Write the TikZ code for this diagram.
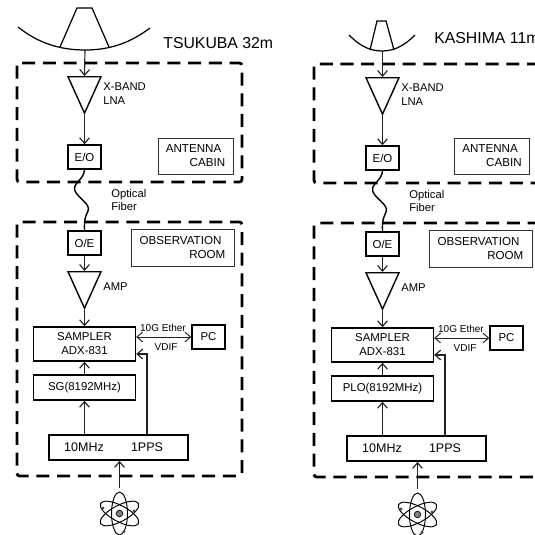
\documentclass[tikz,border=0pt]{standalone}
\usepackage{fontspec}
\setmainfont{Liberation Sans}
\usepackage{xcolor}
\usetikzlibrary{arrows.meta,shapes.geometric,calc}
\definecolor{wire}{HTML}{222222}
\newcommand{\fsz}[1]{\fontsize{#1}{7.9}\selectfont}
\tikzset{
  vbox/.style={draw=black,fill=white,line width=0.8pt,align=center,inner sep=0pt,font=\fsz{6.5}},
  vroom/.style={draw=black!80,fill=white,line width=0.45pt,align=left,inner sep=0pt,font=\fsz{6.6}},
  vclock/.style={draw=black,line width=1pt,inner sep=0pt},
  vamp/.style={draw=black,fill=white,line width=0.8pt,isosceles triangle,isosceles triangle apex angle=48,
    isosceles triangle stretches,shape border rotate=270,inner sep=0pt,minimum width=0.66cm,minimum height=0.73cm,anchor=lower side},
  vtag/.style={inner sep=0pt,anchor=west,align=left,font=\fsz{6.4}},
  vfig/.style={inner sep=0pt,font=\fsz{7.1}},
  vsmall/.style={inner sep=0pt,font=\fsz{5.7}},
  vname/.style={inner sep=0pt,anchor=west,font=\fsz{9}},
  varr/.style={-{Straight Barb[length=3.2pt,width=5.5pt]},line width=0.65pt,draw=wire},
  vdbl/.style={{Straight Barb[length=3.2pt,width=5.5pt]}-{Straight Barb[length=3.2pt,width=5.5pt]},line width=0.55pt,draw=wire},
  vline/.style={line width=0.7pt,draw=black},
  vfence/.style={draw=black,line width=1.6pt,rounded corners=1.5pt,dash pattern=on 7.4pt off 4.4pt},
  vnuc/.style={circle,draw=black,fill=gray,line width=0.4pt,minimum size=0.13cm,inner sep=0pt}
}
\begin{document}
\begin{tikzpicture}[x=0.02cm,y=-0.02cm]
  \clip (0,0) rectangle (535,535);
  % TSUKUBA
  \draw[vfence] (17,63) rectangle (242,182);
  \draw[vfence] (17,222) rectangle (242,476);
  \draw[vline] (18,27) .. controls (38,43) and (60,50) .. (85,50) .. controls (110,50) and (130,43) .. (150,28);
  \draw[vline] (60,47) -- (77,8) -- (92,8) -- (109,47);
  \coordinate (dsht) at (85,50);
  \node[vname] (namt) at (163,43) {TSUKUBA 32m};
  \node[vamp] (lnat) at (84.5,76) {};
  \node[vtag] (lbat) at (103,94) {X-BAND\\ LNA};
  \node[vbox,minimum width=0.66cm,minimum height=0.48cm] (eot) at (84.5,157) {E/O};
  \node[vroom,minimum width=1.5cm,minimum height=0.72cm] (cabt) at (195.5,156) {ANTENNA\\ \hspace*{13.6pt}CABIN};
  \node[vtag] (fibt) at (111,200) {Optical\\ Fiber};
  \node[vbox,minimum width=0.66cm,minimum height=0.48cm] (oet) at (84.5,243) {O/E};
  \node[vroom,minimum width=2.06cm,minimum height=0.74cm] (obst) at (182.5,247.5) {OBSERVATION\\ \hspace*{28.3pt}ROOM};
  \node[vamp] (ampt) at (84.5,271) {};
  \node[vtag] (lbbt) at (103,287) {AMP};
  \node[vbox,minimum width=2.04cm,minimum height=0.68cm] (samt) at (84.5,344) {SAMPLER\\ ADX-831};
  \node[vbox,minimum width=2.04cm,minimum height=0.5cm] (sgt) at (84.5,387.5) {SG(8192MHz)};
  \node[vclock,minimum width=2.78cm,minimum height=0.5cm] (clkt) at (118.5,447.5) {};
  \node[vfig] (tent) at (84,447.5) {10MHz};
  \node[vfig] (ppst) at (147,447.5) {1PPS};
  \node[vbox,minimum width=0.66cm,minimum height=0.48cm] (pct) at (208.5,337) {PC};
  \node[vsmall] (ethert) at (163,328) {10G Ether};
  \node[vsmall] (vdift) at (166,347.5) {VDIF};
  \node[vnuc] (atmt) at (119.5,513.5) {};
  \coordinate (srct) at (119.5,488);
  \foreach \a in {28,90,152}
    \draw[line width=0.55pt] (atmt.center) ellipse [x radius=21.5,y radius=8,rotate=\a];
  \foreach \px/\py in {-16.5/-5.5,14.5/-2.5,4.5/18}
    \fill[black!70] ($(atmt.center)+(\px,\py)$) circle [radius=1.6];
  \draw[varr] (dsht) -- (lnat.lower side);
  \draw[varr] (lnat.apex) -- (eot);
  \draw[line width=0.8pt,draw=black] (eot.south) .. controls (84,180) and (72,183) .. (75,191) .. controls (78,198) and (91,204) .. (88,211) .. controls (86,216) and (84,218) .. (oet.north);
  \draw[varr] (oet) -- (ampt.lower side);
  \draw[varr] (ampt.apex) -- (samt);
  \draw[varr] (sgt) -- (samt);
  \draw[varr] (clkt.north -| sgt) -- (sgt);
  \draw[varr] (clkt.north -| ppst) |- ([yshift=-0.2cm]samt.east);
  \draw[vdbl] (samt.east |- pct) -- (pct);
  \draw[varr] (srct) -- (clkt.south -| srct);
  % KASHIMA
  \draw[vfence] (314,64) rectangle (560,183);
  \draw[vfence] (314,223) rectangle (560,477);
  \draw[vline] (349,35) .. controls (358,44) and (368,51) .. (382,51) .. controls (396,51) and (406,44) .. (415,35);
  \draw[vline] (370,50) -- (377,21) -- (386,21) -- (394,50);
  \coordinate (dshk) at (382.5,51);
  \node[vname] (namk) at (434,38) {KASHIMA 11m};
  \node[vamp] (lnak) at (382.5,77) {};
  \node[vtag] (lbak) at (401,95) {X-BAND\\ LNA};
  \node[vbox,minimum width=0.66cm,minimum height=0.48cm] (eok) at (382.5,158) {E/O};
  \node[vroom,minimum width=1.5cm,minimum height=0.72cm] (cabk) at (492,156) {ANTENNA\\ \hspace*{13.6pt}CABIN};
  \node[vtag] (fibk) at (409,201) {Optical\\ Fiber};
  \node[vbox,minimum width=0.66cm,minimum height=0.48cm] (oek) at (382.5,244) {O/E};
  \node[vroom,minimum width=2.06cm,minimum height=0.74cm] (obsk) at (480.5,248.5) {OBSERVATION\\ \hspace*{28.3pt}ROOM};
  \node[vamp] (ampk) at (382.5,272) {};
  \node[vtag] (lbbk) at (401,288) {AMP};
  \node[vbox,minimum width=2.04cm,minimum height=0.68cm] (samk) at (382.5,345) {SAMPLER\\ ADX-831};
  \node[vbox,minimum width=2.04cm,minimum height=0.5cm] (plok) at (382.5,388.5) {PLO(8192MHz)};
  \node[vclock,minimum width=2.78cm,minimum height=0.5cm] (clkk) at (416.5,448.5) {};
  \node[vfig] (tenk) at (382,448.5) {10MHz};
  \node[vfig] (ppsk) at (445,448.5) {1PPS};
  \node[vbox,minimum width=0.66cm,minimum height=0.48cm] (pck) at (506.5,338) {PC};
  \node[vsmall] (etherk) at (461,329) {10G Ether};
  \node[vsmall] (vdifk) at (465,348.5) {VDIF};
  \node[vnuc] (atmk) at (417.5,514.5) {};
  \coordinate (srck) at (417.5,489);
  \foreach \a in {28,90,152}
    \draw[line width=0.55pt] (atmk.center) ellipse [x radius=21.5,y radius=8,rotate=\a];
  \foreach \px/\py in {-16.5/-5.5,14.5/-2.5,4.5/18}
    \fill[black!70] ($(atmk.center)+(\px,\py)$) circle [radius=1.6];
  \draw[varr] (dshk) -- (lnak.lower side);
  \draw[varr] (lnak.apex) -- (eok);
  \draw[line width=0.8pt,draw=black] (eok.south) .. controls (382,181) and (370,184) .. (373,192) .. controls (376,199) and (389,205) .. (386,212) .. controls (384,217) and (382,219) .. (oek.north);
  \draw[varr] (oek) -- (ampk.lower side);
  \draw[varr] (ampk.apex) -- (samk);
  \draw[varr] (plok) -- (samk);
  \draw[varr] (clkk.north -| plok) -- (plok);
  \draw[varr] (clkk.north -| ppsk) |- ([yshift=-0.2cm]samk.east);
  \draw[vdbl] (samk.east |- pck) -- (pck);
  \draw[varr] (srck) -- (clkk.south -| srck);
\end{tikzpicture}
\end{document}
